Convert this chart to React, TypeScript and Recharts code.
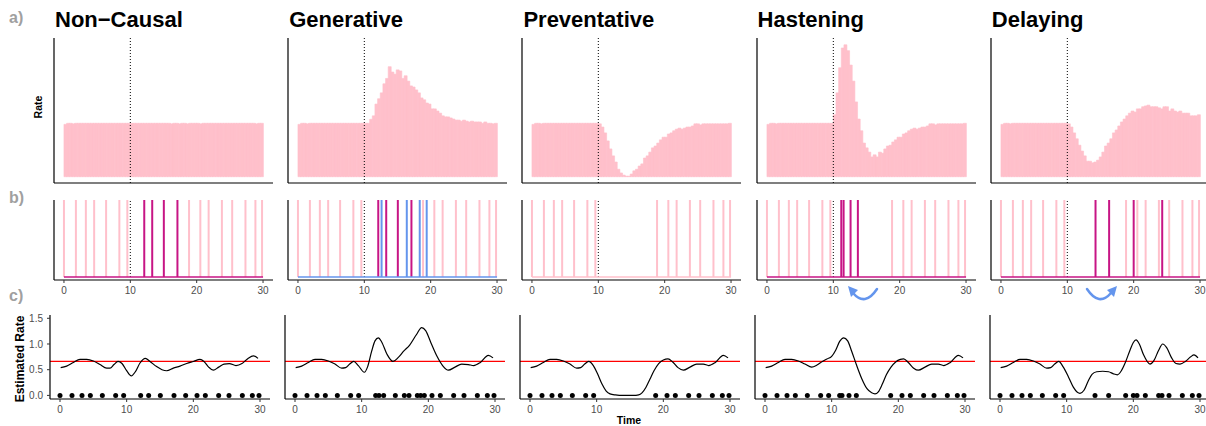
import { Bar, ComposedChart, Line, ReferenceLine, Scatter, XAxis, YAxis } from "recharts";

const PINK = "#FFC0CB";
const MAGENTA = "#C71585";
const BLUE = "#6495ED";
const RED = "#FF0000";
const FONT = "'Liberation Sans', Arial, Helvetica, sans-serif";

// simulated rate histograms: 75 bins of 0.4 time units over 0-30
const preBins = [0.98, 1, 1, 0.99, 1, 1, 1, 1, 1, 1, 1, 1, 1, 1, 1, 1, 1, 1, 1, 1, 1, 1, 1, 1, 1];
const nonCausalBins = [
  1, 1, 1, 1, 1, 1, 1, 1, 1, 1, 1, 1, 1, 1, 1, 0.99, 1, 1, 0.99, 1, 1, 0.99, 1, 1, 1,
  1, 0.99, 1, 1, 1, 1, 1, 1, 1, 1, 1, 1, 1, 1, 1, 1, 1, 1, 1, 1, 1, 1, 0.99, 1, 1,
];
const generativeBins = [
  1, 1, 1.075, 1.14, 1.36, 1.46, 1.57, 1.74, 1.84, 2.06, 1.96, 1.92, 2, 1.98, 1.84, 1.89, 1.79,
  1.7, 1.68, 1.625, 1.57, 1.475, 1.44, 1.38, 1.36, 1.27, 1.27, 1.23, 1.19, 1.14, 1.12, 1.12,
  1.1, 1.08, 1.06, 1.06, 1.04, 1.06, 1.04, 1.025, 1.04, 1.025, 1.025, 1.025, 1, 1.025, 1, 1,
  0.99, 1,
];
const preventativeBins = [
  0.99, 0.93, 0.82, 0.67, 0.52, 0.39, 0.275, 0.14, 0.07, 0.03, 0.01, 0.01, 0.05, 0.11, 0.14,
  0.2, 0.24, 0.35, 0.39, 0.46, 0.54, 0.575, 0.63, 0.69, 0.74, 0.74, 0.8, 0.82, 0.86, 0.89,
  0.91, 0.89, 0.91, 0.93, 0.93, 0.95, 0.99, 0.99, 0.97, 0.99, 0.99, 0.99, 0.99, 0.99, 0.99,
  0.99, 0.99, 0.99, 0.99, 1,
];
const hasteningBins = [
  1.16, 1.57, 2.04, 2.41, 2.47, 2.36, 2.09, 1.79, 1.4, 1.08, 0.86, 0.63, 0.54, 0.46, 0.37,
  0.41, 0.37, 0.46, 0.44, 0.52, 0.575, 0.59, 0.65, 0.69, 0.74, 0.74, 0.8, 0.82, 0.86, 0.89,
  0.91, 0.89, 0.91, 0.93, 0.93, 0.95, 0.99, 0.99, 0.97, 0.99, 0.99, 0.99, 0.99, 0.99, 0.99,
  0.99, 0.99, 0.99, 0.99, 1,
];
const delayingBins = [
  0.99, 0.93, 0.82, 0.71, 0.59, 0.48, 0.39, 0.29, 0.29, 0.26, 0.275, 0.31, 0.37, 0.46, 0.575,
  0.63, 0.71, 0.82, 0.875, 0.95, 1.025, 1.08, 1.14, 1.19, 1.23, 1.21, 1.27, 1.27, 1.31, 1.325,
  1.34, 1.31, 1.31, 1.31, 1.29, 1.27, 1.31, 1.31, 1.23, 1.27, 1.23, 1.21, 1.23, 1.19, 1.19,
  1.19, 1.14, 1.14, 1.14, 1.16,
];
const interventionBin = 25; // first bin after t = 10

// event times
const preEvents = [0, 1.8, 3.3, 4.55, 6.35, 8.35, 9.55];
const postEvents = [18.85, 20.55, 21.8, 23.8, 25.35, 27.35, 28.85, 29.85];
const windowEvents = [12.1, 13.3, 15.05, 17.1];
const generatedEvents = [12.6, 16.4, 18.35, 19.4];
const hastenedEvents = [11.2, 11.55, 12.6, 13.7];
const delayedEvents = [14.25, 16.3, 20, 24.3];

// estimated rate curves [time, rate]
const nonCausalRate = [
  [0.1, 0.54], [1, 0.57], [2, 0.64], [3, 0.7], [4, 0.7], [5, 0.67], [6, 0.6], [7, 0.53],
  [7.5, 0.53], [8.1, 0.6], [8.7, 0.66], [9.3, 0.62], [10, 0.48], [10.7, 0.38], [11.3, 0.46],
  [12, 0.63], [12.8, 0.72], [13.5, 0.66], [14.5, 0.56], [15.3, 0.5], [16, 0.48], [17, 0.53],
  [18, 0.57], [19, 0.62], [20, 0.66], [21, 0.7], [21.6, 0.66], [22.3, 0.55], [23, 0.49],
  [23.8, 0.55], [24.6, 0.61], [25.4, 0.62], [26.4, 0.58], [27.3, 0.62], [28.2, 0.72],
  [29, 0.77], [29.7, 0.72],
];
const generativeRate = [
  [0.1, 0.54], [1, 0.57], [2, 0.64], [3, 0.7], [4, 0.7], [5, 0.67], [6, 0.61], [7, 0.53],
  [7.6, 0.54], [8.2, 0.61], [8.8, 0.66], [9.5, 0.58], [10.4, 0.45], [10.9, 0.56], [11.5, 0.86],
  [12, 1.06], [12.5, 1.12], [13, 1.04], [13.8, 0.8], [14.7, 0.66], [15.5, 0.74], [16.3, 0.86],
  [17.2, 0.98], [18.2, 1.18], [19, 1.32], [19.6, 1.26], [20.4, 1.02], [21.3, 0.76],
  [22.2, 0.57], [23, 0.49], [24, 0.55], [25, 0.61], [26, 0.6], [26.8, 0.58], [27.8, 0.64],
  [29, 0.78], [29.7, 0.73],
];
const preventativeRate = [
  [0.1, 0.54], [1, 0.57], [2, 0.64], [3, 0.7], [4, 0.7], [5, 0.67], [6, 0.61], [7, 0.53],
  [7.6, 0.54], [8.2, 0.61], [8.8, 0.66], [9.5, 0.58], [10.2, 0.4], [10.8, 0.22], [11.4, 0.09],
  [12, 0.03], [12.8, 0.01], [14, 0], [15.5, 0], [16.3, 0.01], [16.8, 0.05], [17.4, 0.16],
  [18, 0.32], [18.6, 0.48], [19.3, 0.62], [20, 0.69], [20.7, 0.71], [21.4, 0.65], [22.2, 0.54],
  [23, 0.49], [24, 0.55], [25, 0.61], [26, 0.61], [26.8, 0.58], [27.8, 0.64], [29, 0.78],
  [29.7, 0.73],
];
const hasteningRate = [
  [0.1, 0.54], [1, 0.57], [2, 0.64], [3, 0.7], [4, 0.7], [5, 0.67], [6, 0.61], [7, 0.55],
  [7.8, 0.59], [8.6, 0.66], [9.3, 0.71], [10, 0.76], [10.6, 0.88], [11.2, 1.05], [11.8, 1.12],
  [12.4, 1.06], [13, 0.86], [13.7, 0.6], [14.5, 0.33], [15.3, 0.13], [16, 0.05], [16.5, 0.03],
  [17, 0.07], [17.6, 0.22], [18.2, 0.4], [18.9, 0.55], [19.6, 0.65], [20.3, 0.7], [20.8, 0.71],
  [21.5, 0.64], [22.3, 0.53], [23, 0.49], [24, 0.55], [25, 0.61], [26, 0.61], [26.8, 0.58],
  [27.8, 0.64], [29, 0.78], [29.7, 0.73],
];
const delayingRate = [
  [0.1, 0.54], [1, 0.57], [2, 0.64], [3, 0.7], [4, 0.7], [5, 0.67], [6, 0.61], [7, 0.53],
  [7.6, 0.54], [8.2, 0.61], [8.8, 0.66], [9.5, 0.55], [10.3, 0.35], [11, 0.16], [11.6, 0.06],
  [12, 0.04], [12.6, 0.1], [13.2, 0.27], [13.8, 0.41], [14.5, 0.46], [15.4, 0.47], [16.3, 0.46],
  [17, 0.42], [17.6, 0.4], [18.2, 0.48], [18.8, 0.64], [19.5, 0.88], [20, 1.03], [20.4, 1.08],
  [20.9, 1], [21.5, 0.8], [22.5, 0.61], [23.1, 0.68], [23.8, 0.88], [24.4, 1], [25, 0.93],
  [25.7, 0.74], [26.4, 0.62], [27, 0.61], [27.8, 0.66], [28.6, 0.75], [29.1, 0.79], [29.7, 0.73],
];

const baseRate = 0.66;
const timeTicks = [0, 10, 20, 30];
const rateTicks = [0, 0.5, 1, 1.5];

const panels = [
  { title: "Non\u2212Causal", bins: nonCausalBins, moved: windowEvents, extra: [], base: MAGENTA, curve: nonCausalRate },
  { title: "Generative", bins: generativeBins, moved: windowEvents, extra: generatedEvents, base: BLUE, curve: generativeRate },
  { title: "Preventative", bins: preventativeBins, moved: [], extra: [], base: PINK, curve: preventativeRate },
  { title: "Hastening", bins: hasteningBins, moved: hastenedEvents, extra: [], base: MAGENTA, curve: hasteningRate },
  { title: "Delaying", bins: delayingBins, moved: delayedEvents, extra: [], base: MAGENTA, curve: delayingRate },
];

// layout
const AB_LEFT = [54, 288.2, 522.4, 756.6, 990.8];
const C_LEFT = [50, 285, 520, 755, 990];
const T_DOMAIN: [number, number] = [-1.5, 31.5];
const AXIS_LINE = { stroke: "#000", strokeWidth: 1.2 };
const TICK = { fontSize: 10, fill: "#4d4d4d", fontFamily: FONT };
const TICK_LINE = { stroke: "#333", strokeWidth: 1 };

function HistPanel({ bins, left }: { bins: number[]; left: number }) {
  const data = [...preBins, ...bins].map((rate, bin) => ({ bin, rate }));
  return (
    <div style={{ position: "absolute", left: left - 10, top: 34 }}>
      <ComposedChart
        width={233}
        height={152}
        data={data}
        margin={{ top: 4, right: 4, bottom: 0, left: 0 }}
        barCategoryGap={0}
        barGap={0}
      >
        <XAxis
          dataKey="bin"
          type="category"
          padding={{ left: 9.95, right: 9.95 }}
          height={3}
          tick={false}
          tickLine={false}
          axisLine={AXIS_LINE}
        />
        <YAxis type="number" domain={[-0.118, 2.597]} allowDataOverflow width={10} tick={false} tickLine={false} axisLine={AXIS_LINE} />
        <Bar dataKey="rate" fill={PINK} stroke={PINK} strokeWidth={0.6} isAnimationActive={false} />
        <ReferenceLine x={interventionBin} position="start" stroke="#000" strokeWidth={1} strokeDasharray="1 2" />
      </ComposedChart>
    </div>
  );
}

function EventPanel({ panel, left }: { panel: (typeof panels)[number]; left: number }) {
  const baseline = [{ t: 0, v: 0 }, { t: 30, v: 0 }];
  const strip = (times: number[], color: string) =>
    times.map((t) => (
      <ReferenceLine key={color + t} segment={[{ x: t, y: 0 }, { x: t, y: 1 }]} stroke={color} strokeWidth={2} />
    ));
  return (
    <div style={{ position: "absolute", left: left - 10, top: 196 }}>
      <ComposedChart width={233} height={104} data={baseline} margin={{ top: 4, right: 4, bottom: 0, left: 0 }}>
        <XAxis type="number" dataKey="t" domain={T_DOMAIN} allowDataOverflow ticks={timeTicks} interval={0} height={20} tickSize={3} tickMargin={4} tick={TICK} tickLine={TICK_LINE} axisLine={AXIS_LINE} />
        <YAxis type="number" domain={[-0.039, 1]} allowDataOverflow width={10} tick={false} tickLine={false} axisLine={AXIS_LINE} />
        {strip([...preEvents, ...postEvents], PINK)}
        {strip(panel.moved, MAGENTA)}
        {strip(panel.extra, BLUE)}
        <ReferenceLine segment={[{ x: 10, y: 0 }, { x: 10, y: 1 }]} stroke="#000" strokeWidth={1} strokeDasharray="1 2" />
        <Line dataKey="v" stroke={panel.base} strokeWidth={1.3} dot={false} isAnimationActive={false} />
      </ComposedChart>
    </div>
  );
}

const DotShape = (p: any) => <circle cx={p.cx} cy={p.cy} r={2.5} fill="#000" />;

function RatePanel({ panel, left, first }: { panel: (typeof panels)[number]; left: number; first: boolean }) {
  const curve = panel.curve.map(([t, rate]) => ({ t, rate }));
  const dots = [...preEvents, ...panel.moved, ...panel.extra, ...postEvents].map((t) => ({ t, v: 0 }));
  const yw = first ? 50 : 10;
  return (
    <div style={{ position: "absolute", left: left - yw, top: 311 }}>
      <ComposedChart width={yw + 224} height={108} margin={{ top: 4, right: 4, bottom: 0, left: 0 }}>
        <XAxis type="number" dataKey="t" domain={T_DOMAIN} allowDataOverflow ticks={timeTicks} interval={0} height={20} tickSize={3} tickMargin={4} tick={TICK} tickLine={TICK_LINE} axisLine={AXIS_LINE} />
        <YAxis
          type="number"
          domain={[-0.07, 1.564]}
          allowDataOverflow
          width={yw}
          ticks={rateTicks}
          interval={0}
          tickFormatter={(v: number) => v.toFixed(1)}
          tick={first ? TICK : false}
          tickLine={first ? TICK_LINE : false}
          tickSize={3}
          tickMargin={4}
          axisLine={AXIS_LINE}
        />
        <ReferenceLine y={baseRate} stroke={RED} strokeWidth={1.3} />
        <Line data={curve} dataKey="rate" type="monotone" stroke="#000" strokeWidth={1.2} dot={false} isAnimationActive={false} />
        <Scatter data={dots} dataKey="v" shape={DotShape} isAnimationActive={false} />
      </ComposedChart>
    </div>
  );
}

export default function App() {
  const label = { fontFamily: FONT, fontWeight: 700 } as const;
  return (
    <div style={{ position: "absolute", left: 0, top: 0, width: 1206, height: 426, background: "#fff", overflow: "hidden" }}>
      {panels.map((p, i) => (
        <HistPanel key={"a" + i} bins={p.bins} left={AB_LEFT[i]} />
      ))}
      {panels.map((p, i) => (
        <EventPanel key={"b" + i} panel={p} left={AB_LEFT[i]} />
      ))}
      {panels.map((p, i) => (
        <RatePanel key={"c" + i} panel={p} left={C_LEFT[i]} first={i === 0} />
      ))}
      <svg width={1206} height={426} style={{ position: "absolute", left: 0, top: 0, pointerEvents: "none" }}>
        <g {...label} fontSize={16} fill="#a0a0a0">
          <text x={9} y={23}>a)</text>
          <text x={9} y={203}>b)</text>
          <text x={9} y={301}>c)</text>
        </g>
        <g {...label} fontSize={22} fill="#000">
          {panels.map((p, i) => (
            <text key={p.title} x={AB_LEFT[i] + 1} y={27}>
              {p.title}
            </text>
          ))}
        </g>
        <text {...label} fontSize={10.5} textAnchor="middle" transform="translate(41.8,107) rotate(-90)">
          Rate
        </text>
        <text {...label} fontSize={12} textAnchor="middle" transform="translate(24.3,359) rotate(-90)">
          Estimated Rate
        </text>
        <text {...label} fontSize={10.5} textAnchor="middle" x={629} y={424}>
          Time
        </text>
        <g stroke={BLUE} strokeWidth={2.5} fill="none" strokeLinecap="round">
          <path d="M 877 289 Q 865 307 853 293" />
          <path d="M 1087 289 Q 1099 307 1111 293" />
        </g>
        <g fill={BLUE}>
          <polygon points="848,286 858,290 851,297" />
          <polygon points="1117,286 1107,290 1114,297" />
        </g>
      </svg>
    </div>
  );
}
